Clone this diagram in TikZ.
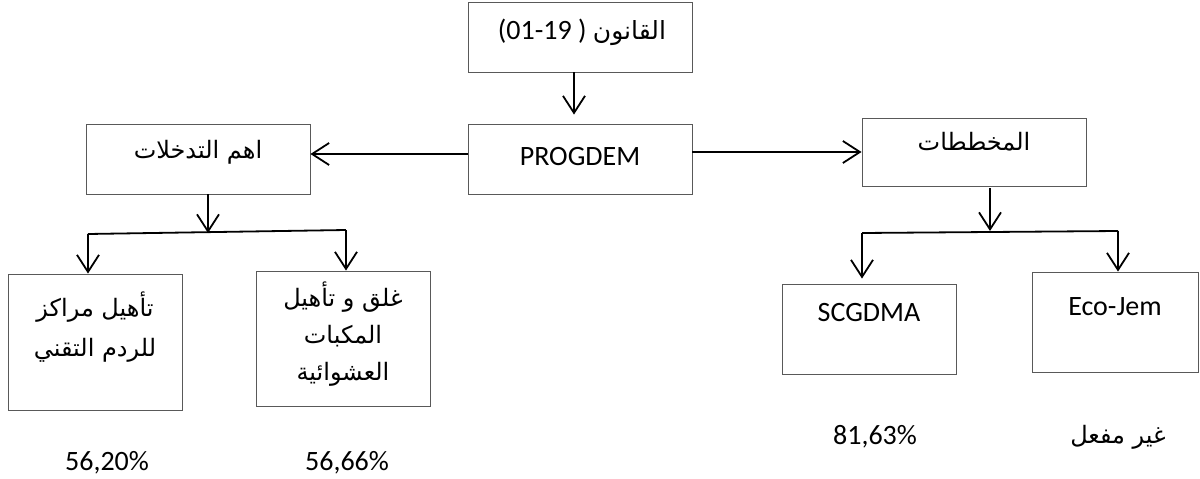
\documentclass[tikz,border=0pt]{standalone}
\usepackage{fontspec}
\setmainfont{Carlito}
\newfontfamily\arabicfont[Script=Arabic]{DejaVu Sans}
\TeXXeTstate=1
\usetikzlibrary{arrows.meta}

\begin{document}
\begin{tikzpicture}[
    x=1pt, y=-1pt,
    box/.style={draw=black!65, line width=0.9pt, inner sep=0pt},
    arr/.style={-{Straight Barb[length=17pt, width=22pt]}, line width=1.8pt},
    lnk/.style={line width=1.8pt},
    lat/.style={font=\fontsize{28}{34}\selectfont, inner sep=0pt},
    ara/.style={font=\arabicfont\fontsize{24}{40}\selectfont, align=center, inner sep=0pt}
]
\useasboundingbox (0,0) rectangle (1200,479);

\node[box, minimum width=224pt, minimum height=70pt] (Q) at (580,37) {};
\node[box, minimum width=224pt, minimum height=70pt] (P) at (580,159) {};
\node[box, minimum width=224pt, minimum height=70pt] (T) at (198,159) {};
\node[box, minimum width=224pt, minimum height=68pt] (M) at (974,152) {};
\node[box, minimum width=174pt, minimum height=136pt] (R1) at (95,342) {};
\node[box, minimum width=174pt, minimum height=135pt] (R2) at (343,338.5) {};
\node[box, minimum width=174pt, minimum height=90pt] (S) at (869,329) {};
\node[box, minimum width=166pt, minimum height=100pt] (E) at (1115,322) {};

\node[lat] (Qt) at (582,32) {(01-19\ )\ {\arabicfont\fontsize{25}{30}\selectfont\beginR القانون\endR}};
\node[lat] (Pt) at (580,157) {PROGDEM};
\node[ara] (Tt) at (198,152) {\beginR اهم التدخلات\endR};
\node[ara] (Mt) at (974,142) {\beginR المخططات\endR};
\node[ara, font=\arabicfont\fontsize{24}{40}\selectfont] (R1t) at (95,327) {\beginR تأهيل مراكز\endR\\\beginR للردم التقني\endR};
\node[ara, font=\arabicfont\fontsize{24}{37}\selectfont] (R2t) at (343,334) {\beginR غلق و تأهيل\endR\\\beginR المكبات\endR\\\beginR العشوائية\endR};
\node[lat] (St) at (869,313) {SCGDMA};
\node[lat] (Et) at (1115,307) {Eco-Jem};

\node[lat] (p1) at (107,463) {56,20\%};
\node[lat] (p2) at (347,463) {56,66\%};
\node[lat] (p3) at (875,437) {81,63\%};
\node[ara] (p4) at (1118,437) {\beginR غير مفعل\endR};

\coordinate (tj) at (208,233);
\coordinate (tl) at (88,234);
\coordinate (tr) at (346,230);
\coordinate (mj) at (990,231);
\coordinate (ml) at (862,233);
\coordinate (mr) at (1118,231);

\draw[arr, shorten >=9pt] ([xshift=-6pt]Q.south) -- ([xshift=-6pt]P.north);
\draw[arr] ([yshift=5pt]P.west) -- ([yshift=5pt]T.east);
\draw[arr] ([yshift=7pt]P.east) -- (M.west);

\draw[arr] (T.south -| tj) -- (tj);
\draw[lnk] (tl) -- (tr);
\draw[arr] (tl) -- (tl |- R1.north);
\draw[arr] (tr) -- (tr |- R2.north);

\draw[arr] ([yshift=-2pt]M.south -| mj) -- (mj);
\draw[lnk] (ml) -- (mr);
\draw[arr, shorten >=5pt] (ml) -- (ml |- S.north);
\draw[arr] (mr) -- (mr |- E.north);
\end{tikzpicture}
\end{document}
